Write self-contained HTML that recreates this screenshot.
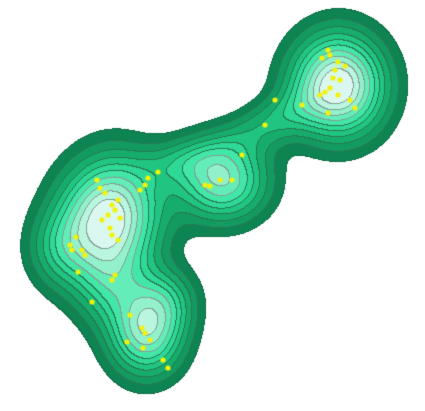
<!DOCTYPE html>
<html><head><meta charset="utf-8"><style>
html,body{margin:0;padding:0;background:#fff;width:425px;height:411px;overflow:hidden}
canvas{display:block}
</style></head><body>
<canvas id="c" width="425" height="411"></canvas>
<script>
// kernel centers / spreads / weights (density components)
const kx=[338,108,222,146,272,180,112,60,165];
const ky=[ 85,218,180,333,122,162,285,250,300];
const ksx=[31,33,30,25,36,30,24,22,22];
const ksy=[34,40,27,29,16,15,28,26,22];
const kang=[0,0.25,0,0,-0.45,-0.2,0.3,0,0.5];
const kw=[1.0,1.0,0.7,0.72,0.28,0.2,0.32,0.25,0.3];
const levels=[0.08,0.15,0.23,0.32,0.41,0.5,0.6,0.7,0.8,0.9];
const levelColors=['#0e8453','#129a60','#16ad6c','#1fc581','#2ed995','#42e6a6','#64edb8','#92f1cb','#baf5df','#dbf8f0'];
// yellow observation points
const px=[328,330,322,338,345,335,333,340,330,325,320,338,350,355,328,302,275,265,242,205,210,220,232,158,97,100,105,148,145,140,118,115,112,108,102,120,110,112,76,70,72,82,85,118,115,112,78,92,130,142,145,150,127,143,163,168];
const py=[50,55,58,62,66,70,78,80,88,92,95,95,100,108,113,105,100,125,155,185,186,180,180,172,180,188,193,178,185,190,200,210,205,215,220,218,228,235,237,245,250,250,255,240,275,280,272,302,315,328,333,340,342,348,360,368];

const cv=document.getElementById('c'),ctx=cv.getContext('2d');
const W=425,H=411;
function field(x,y){let f=0;for(let i=0;i<kx.length;i++){const dx=x-kx[i],dy=y-ky[i],c=Math.cos(kang[i]),s=Math.sin(kang[i]);const u=(dx*c+dy*s)/ksx[i],v=(-dx*s+dy*c)/ksy[i];f+=kw[i]*Math.exp(-(u*u+v*v)/2);}return f;}
const lv=new Int8Array(W*H);
for(let y=0;y<H;y++)for(let x=0;x<W;x++){const f=field(x,y);let k=0;while(k<levels.length&&f>=levels[k])k++;lv[y*W+x]=k;}
const img=ctx.createImageData(W,H);
function hex(h){return [parseInt(h.slice(1,3),16),parseInt(h.slice(3,5),16),parseInt(h.slice(5,7),16)];}
const cols=levelColors.map(hex);
for(let y=0;y<H;y++)for(let x=0;x<W;x++){const i=y*W+x,k=lv[i];let c=k===0?[255,255,255]:cols[k-1];
 const r=x<W-1?lv[i+1]:k,d=y<H-1?lv[i+W]:k;const m=Math.max(k,r,d);
 if((r!==k||d!==k)){ if(Math.min(k,r,d)===0)c=[14,110,70]; else c=m>6?[130,160,150]:[40,120,85]; }
 const o=i*4;img.data[o]=c[0];img.data[o+1]=c[1];img.data[o+2]=c[2];img.data[o+3]=255;}
ctx.putImageData(img,0,0);
ctx.fillStyle='#f2f20a';
for(let i=0;i<px.length;i++){ctx.beginPath();ctx.arc(px[i],py[i],2.6,0,Math.PI*2);ctx.fill();}
</script>
</body></html>
